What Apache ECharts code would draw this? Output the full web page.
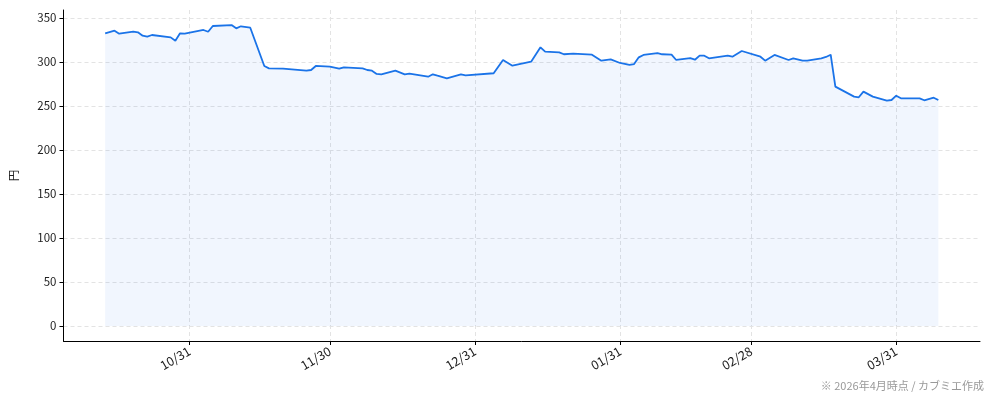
<!DOCTYPE html>
<html><head><meta charset="utf-8">
<script src="https://cdn.jsdelivr.net/npm/echarts@6/dist/echarts.min.js"></script>
<style>html,body{margin:0;padding:0;background:#fff}#c{width:994px;height:401px}</style>
</head><body><div id="c"></div>
<script>
const dates = [
'2025-10-13','2025-10-15','2025-10-16','2025-10-19','2025-10-20','2025-10-21','2025-10-22','2025-10-23','2025-10-27','2025-10-28','2025-10-29','2025-10-30',
'2025-11-03','2025-11-04','2025-11-05','2025-11-09','2025-11-10','2025-11-11','2025-11-13','2025-11-16','2025-11-17','2025-11-20','2025-11-25','2025-11-26','2025-11-27','2025-11-30',
'2025-12-02','2025-12-03','2025-12-07','2025-12-08','2025-12-09','2025-12-10','2025-12-11','2025-12-14','2025-12-16','2025-12-17','2025-12-21','2025-12-22','2025-12-23','2025-12-25','2025-12-28','2025-12-29',
'2026-01-04','2026-01-06','2026-01-08','2026-01-12','2026-01-14','2026-01-15','2026-01-18','2026-01-19','2026-01-21','2026-01-25','2026-01-27','2026-01-29','2026-01-31',
'2026-02-02','2026-02-03','2026-02-04','2026-02-05','2026-02-08','2026-02-09','2026-02-11','2026-02-12','2026-02-15','2026-02-16','2026-02-17','2026-02-18','2026-02-19','2026-02-23','2026-02-24','2026-02-26',
'2026-03-02','2026-03-03','2026-03-05','2026-03-08','2026-03-09','2026-03-11','2026-03-12','2026-03-15','2026-03-16','2026-03-17','2026-03-18','2026-03-22','2026-03-23','2026-03-24','2026-03-26','2026-03-29','2026-03-30','2026-03-31',
'2026-04-01','2026-04-05','2026-04-06','2026-04-08','2026-04-09'
];
const prices = [
332.6,335.6,332.2,334.4,333.7,329.9,328.8,330.7,328.0,324.2,332.6,332.2,
336.4,334.4,340.9,342.0,338.3,340.6,339.0,295.5,292.8,292.4,290.1,290.9,295.5,294.7,
292.4,294.0,292.8,290.9,290.1,286.4,286.0,290.1,286.0,286.7,283.3,286.0,284.4,281.5,286.0,284.9,
287.2,302.3,295.8,300.3,316.7,311.7,311.0,308.8,309.5,308.3,301.5,303.0,298.9,
296.6,297.7,305.3,308.0,310.2,308.8,308.3,302.3,304.5,302.6,307.2,307.2,304.2,307.2,306.0,312.5,
306.0,301.5,308.0,302.3,304.2,301.5,301.5,304.2,305.7,308.3,272.0,260.6,259.9,266.3,260.6,256.0,256.8,261.7,
258.7,258.7,256.5,259.4,256.8
];
const xTickDates = ['2025-10-31','2025-11-30','2025-12-31','2026-01-31','2026-02-28','2026-03-31'];
const yTicks = [0,50,100,150,200,250,300,350];

function ts(s){const p=s.split('-').map(Number);return new Date(p[0],p[1]-1,p[2]).getTime();}
const DAY = 86400000;
const seriesData = dates.map((d,i)=>[ts(d), prices[i]]);
const xTicks = xTickDates.map(ts);
const FONT = "'Noto Sans CJK JP', 'Noto Sans', sans-serif";

const chart = echarts.init(document.getElementById('c'), null, {renderer:'canvas'});
chart.setOption({
  animation:false,
  backgroundColor:'#fff',
  grid:{left:62,right:14,top:10,bottom:60,containLabel:false},
  xAxis:{
    type:'value',
    min: ts('2025-10-04') + 0.1*DAY,
    max: ts('2026-04-17') + 0.9*DAY,
    axisLine:{onZero:false,lineStyle:{color:'#000',width:1}},
    axisTick:{show:true,length:4,lineStyle:{color:'#000'},customValues:xTicks},
    axisLabel:{customValues:xTicks,rotate:30,color:'#222',fontSize:12.5,fontFamily:FONT,margin:9,
      formatter:function(v){const d=new Date(v);return String(d.getMonth()+1).padStart(2,'0')+'/'+String(d.getDate()).padStart(2,'0');}},
    splitLine:{show:true,lineStyle:{color:'#e3e3e3',type:[4,3],width:1}}
  },
  yAxis:{
    type:'value',
    min:-17.1,max:359.1,
    name:'円',nameLocation:'middle',nameRotate:90,nameGap:44,
    nameTextStyle:{color:'#222',fontSize:11.5,fontFamily:FONT},
    axisLine:{show:true,lineStyle:{color:'#000',width:1}},
    axisTick:{show:true,length:4,lineStyle:{color:'#000'},customValues:yTicks},
    axisLabel:{customValues:yTicks,color:'#222',fontSize:11.5,fontFamily:FONT,margin:7},
    splitLine:{show:true,lineStyle:{color:'#e3e3e3',type:[4,3],width:1}}
  },
  graphic:[{
    type:'text',right:10,bottom:10,
    style:{text:'※ 2026年4月時点 / カブミエ作成',fill:'#999',fontSize:11,fontFamily:FONT}
  }],
  series:[{
    type:'line',
    data:seriesData,
    showSymbol:false,symbol:'none',
    lineStyle:{color:'#1a73e8',width:1.8},
    itemStyle:{color:'#1a73e8'},
    areaStyle:{color:'rgba(26,115,232,0.09)',origin:0}
  }]
});
</script></body></html>
